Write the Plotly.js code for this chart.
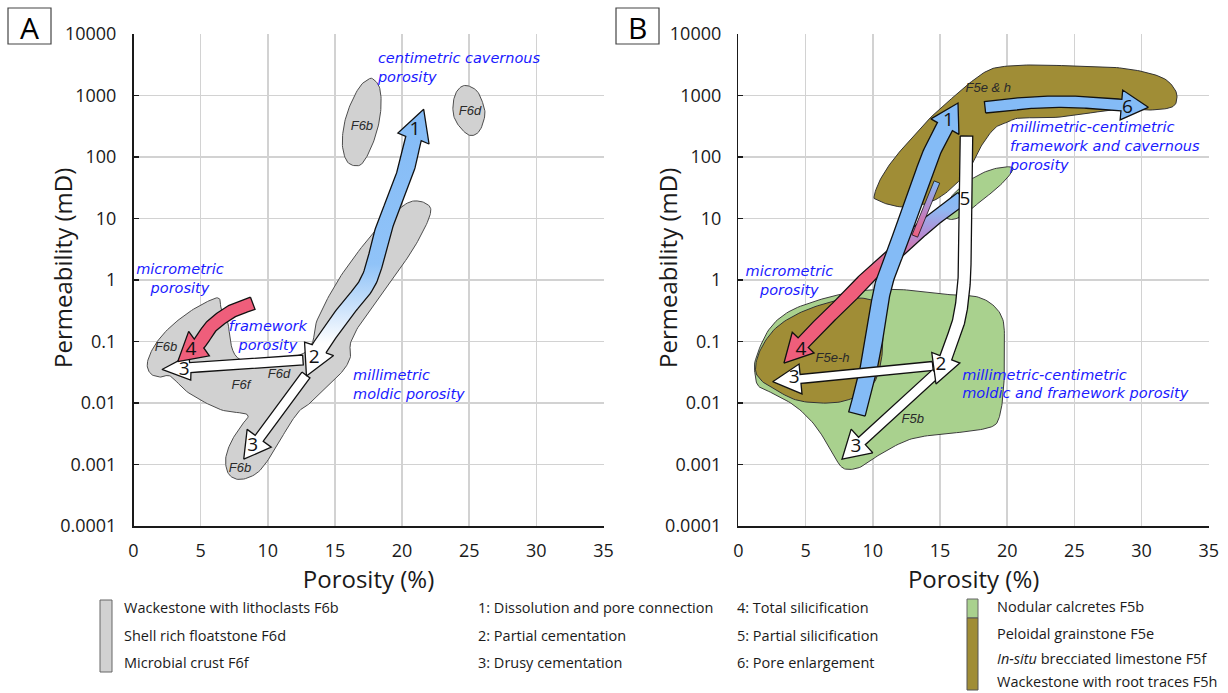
<!DOCTYPE html>
<html><head><meta charset="utf-8">
<script src="https://cdn.plot.ly/plotly-3.0.1.min.js"></script>
<style>html,body{margin:0;padding:0;background:#fff}#chart{width:1228px;height:693px}</style>
</head><body><div id="chart"></div>
<script>
// ================= DATA (porosity %, permeability mD) =================
// Panel A facies fields
const A_F6_MAIN_PHI = [21.12,21.98,22.11,21.61,20.62,19.38,18.14,16.90,16.16,16.16,15.66,14.67,13.93,13.18,12.44,11.69,10.95,10.21,9.22,7.98,7.11,6.86,7.23,7.98,8.47,6.49,4.13,2.77,2.02,1.28,1.03,1.53,2.52,4.01,5.50,6.36,6.54,6.98,7.98,12.69,13.68,14.67,15.91,18.14,20.13];
const A_F6_MAIN_K = [19.3,16.4,12.1,6.47,2.70,1.13,0.474,0.198,0.094,0.0571,0.0347,0.0211,0.0145,0.0100,0.0078,0.00474,0.00254,0.00136,0.000733,0.000571,0.000689,0.00120,0.00224,0.00419,0.00647,0.0078,0.0145,0.0271,0.0264,0.0299,0.0446,0.0830,0.155,0.288,0.446,0.505,0.327,0.224,0.0504,0.0647,0.224,0.609,1.64,6.89,16.4];
const A_F6B_TOP_PHI = [17.81,18.31,18.44,18.26,17.81,17.19,16.69,15.95,15.57,15.65,16.07,16.82,17.44];
const A_F6B_TOP_K = [1870,1368,731,345,163,87,72,82,144,305,646,1368,1800];
const A_F6D_TOP_PHI = [24.66,25.54,26.03,26.16,25.78,25.16,24.54,23.92,23.79,24.04];
const A_F6D_TOP_K = [1455,1207,731,472,268,223,268,417,687,1133];

// Panel A diagenetic paths
const A_PATH12_PHI = [12.88,13.81,15.67,17.53,18.58,19.47,20.36,20.88,21.61];
const A_PATH12_K = [0.0275,0.0755,0.290,1.0,6.26,20,68.7,211,597];
const A_PATH3H_PHI = [12.62,2.12];
const A_PATH3H_K = [0.050,0.0351];
const A_PATH3D_PHI = [12.84,8.21];
const A_PATH3D_K = [0.0285,0.00122];
const A_PATH4_PHI = [8.88,7.26,5.77,4.90,3.29];
const A_PATH4_K = [0.418,0.305,0.174,0.0935,0.047];

// Panel B facies fields
const B_F5B_PHI = [1.27,2.26,3.76,6.00,7.99,9.73,11.72,13.71,15.95,17.69,18.93,19.68,19.80,19.80,19.68,19.43,18.93,17.19,14.70,12.71,10.72,9.23,8.23,7.61,6.99,5.75,4.25,2.51,1.52,1.27];
const B_F5B_K = [0.0504,0.155,0.306,0.474,0.608,0.689,0.706,0.647,0.571,0.537,0.393,0.225,0.094,0.0347,0.0128,0.00608,0.00419,0.00347,0.00306,0.00254,0.00155,0.00094,0.00083,0.00094,0.00155,0.00419,0.00883,0.0145,0.0186,0.0271];
const B_F5EH_LOW_PHI = [1.27,1.64,2.76,4.50,6.49,8.23,9.73,10.47,10.72,10.67,10.22,9.23,7.74,5.99,4.25,2.76,1.77];
const B_F5EH_LOW_K = [0.0347,0.0733,0.164,0.288,0.418,0.504,0.486,0.370,0.155,0.0571,0.0239,0.0145,0.0106,0.0100,0.0113,0.0164,0.0225];
const B_F5EH_TOP_PHI = [10.09,10.54,11.50,12.77,14.26,15.74,16.93,18.35,19.46,21.70,25.04,27.65,29.88,31.59,32.41,32.63,32.26,30.63,28.39,23.93,20.95,20.06,19.09,18.12,17.38,16.11,14.62,12.77,11.28,10.39];
const B_F5EH_TOP_K = [22.4,42.3,89.4,189,430,845,1427,2409,2905,3133,3019,2905,2500,1926,1325,910,650,581,603,447,430,371,296,157,74,35,20,15.4,16.6,20];
const B_F5B_TOP_PHI = [15.40,15.77,16.64,17.60,18.72,19.84,20.43,20.06,19.09,18.12,17.08,16.11,15.44];
const B_F5B_TOP_K = [12.8,21.5,33.7,47.3,61.5,68.8,66.2,47.3,29.0,20.0,12.8,9.8,10.2];

// Panel B diagenetic paths
const B_PATH1_PHI = [8.82,9.49,10.01,10.39,10.90,12.02,13.36,14.47,16.34];
const B_PATH1_K = [0.00662,0.0237,0.0814,0.290,1.0,4.47,29,130,755];
const B_PATH6_PHI = [18.35,20.95,23.71,26.54,30.50];
const B_PATH6_K = [643,741,793,755,643];
const B_PATH25_PHI = [16.97,16.93,16.86,16.79,16.49,15.97,14.70];
const B_PATH25_K = [219,20,3.07,0.927,0.270,0.114,0.0204];
const B_PATH3H_PHI = [14.46,2.55];
const B_PATH3H_K = [0.040,0.0222];
const B_PATH3D_PHI = [14.70,7.71];
const B_PATH3D_K = [0.0304,0.00122];
const B_PATH4_PHI = [16.64,14.26,11.95,9.79,8.01,6.22,3.39];
const B_PATH4_K = [21.5,8.77,3.08,1.21,0.473,0.200,0.0447];
const B_PATH4TAIL_PHI = [13.13,14.77];
const B_PATH4TAIL_K = [5.19,39.2];

// Axis ticks
const X_TICKS = [0,5,10,15,20,25,30,35];
const Y_TICKS = [0.0001,0.001,0.01,0.1,1,10,100,1000,10000];
const Y_TICKTEXT = ['0.0001','0.001','0.01','0.1','1','10','100','1000','10000'];

// Labels
const A_LABELS = [
  {t:'F6b', phi:17.01, k:307}, {t:'F6d', phi:25.06, k:540}, {t:'F6b', phi:2.42, k:0.0783},
  {t:'F6d', phi:10.83, k:0.0285}, {t:'F6f', phi:8.0, k:0.0189}, {t:'F6b', phi:7.93, k:0.00085}
];
const B_LABELS = [
  {t:'F5e &amp; h', phi:18.59, k:1310}, {t:'F5e-h', phi:7.01, k:0.0533}, {t:'F5b', phi:12.97, k:0.0053}
];
const A_NUMS = [{t:'1',phi:20.96,k:275},{t:'2',phi:13.46,k:0.0533},{t:'3',phi:3.78,k:0.0344},{t:'3',phi:8.88,k:0.00195},{t:'4',phi:4.28,k:0.0728}];
const B_NUMS = [{t:'1',phi:15.62,k:375},{t:'6',phi:28.94,k:620},{t:'5',phi:16.86,k:20},{t:'2',phi:15.07,k:0.0415},{t:'3',phi:4.16,k:0.0252},{t:'3',phi:8.75,k:0.00194},{t:'4',phi:4.66,k:0.0728}];
const A_PORE_CENTER = [{t:'micrometric<br>porosity',phi:3.46,k:1.02},{t:'framework<br>porosity',phi:10.01,k:0.118}];
const A_PORE_LEFT = [{t:'centimetric cavernous<br>porosity',phi:18.2,k:2698},{t:'millimetric<br>moldic porosity',phi:16.35,k:0.0189}];
const B_PORE_CENTER = [{t:'micrometric<br>porosity',phi:3.79,k:0.927}];
const B_PORE_LEFT = [{t:'millimetric-centimetric<br>framework and cavernous<br>porosity',phi:20.2,k:144},{t:'millimetric-centimetric<br>moldic and framework porosity',phi:16.65,k:0.0193}];

const LEGEND_FACIES_A = ['Wackestone with lithoclasts F6b','Shell rich floatstone F6d','Microbial crust F6f'];
const LEGEND_PROC_1 = ['1: Dissolution and pore connection','2: Partial cementation','3: Drusy cementation'];
const LEGEND_PROC_2 = ['4: Total silicification','5: Partial silicification','6: Pore enlargement'];
const LEGEND_FACIES_B = ['Nodular calcretes F5b','Peloidal grainstone F5e','<i>In-situ</i> brecciated limestone F5f','Wackestone with root traces F5h'];

// ================= GEOMETRY / STYLE =================
const W = 1228, H = 693;
const DOM_A = [133.5/W, 603.5/W];
const DOM_B = [738.4/W, 1208.8/W];
const DOM_Y = [1-526/H, 1-34/H];
const XR = [0,35], LYR = [-4,4];
const SX_A = (DOM_A[1]-DOM_A[0])*W/(XR[1]-XR[0]);
const SX_B = (DOM_B[1]-DOM_B[0])*W/(XR[1]-XR[0]);
const SY = (DOM_Y[1]-DOM_Y[0])*H/(LYR[1]-LYR[0]);

const C_GRAY='#d1d1d1', C_GRAYLINE='#4d4d4d', C_GREEN='#a9d18e', C_OLIVE='#a08d36';
const C_BLUE='#84bbf6', C_PINK='#ef5e7b', C_LINE='#111111', C_TXTBLUE='#1a1aff';

function toPix(phi,k,sx){return [phi*sx, -Math.log10(k)*SY];}
function fromPix(p,sx){return [p[0]/sx, Math.pow(10,-p[1]/SY)];}
function catmull(pts, closed, n){
  const out=[], m=pts.length, segs=closed?m:m-1;
  for(let i=0;i<segs;i++){
    const p0=pts[closed?(i-1+m)%m:Math.max(i-1,0)], p1=pts[i], p2=pts[(i+1)%m], p3=pts[closed?(i+2)%m:Math.min(i+2,m-1)];
    for(let s=0;s<n;s++){
      const t=s/n,t2=t*t,t3=t2*t;
      const f=(a,b,c,d)=>0.5*((2*b)+(-a+c)*t+(2*a-5*b+4*c-d)*t2+(-a+3*b-3*c+d)*t3);
      out.push([f(p0[0],p1[0],p2[0],p3[0]),f(p0[1],p1[1],p2[1],p3[1])]);
    }
  }
  if(!closed) out.push(pts[m-1]);
  return out;
}
function blob(phi,k,sx){
  const P=phi.map((v,i)=>toPix(v,k[i],sx));
  const C=catmull(P,true,10); C.push(C[0]);
  const D=C.map(p=>fromPix(p,sx));
  return {x:D.map(d=>d[0]), y:D.map(d=>d[1])};
}
function pointAt(C,cum,s){
  for(let i=1;i<C.length;i++){ if(cum[i]>=s){ const t=(s-cum[i-1])/((cum[i]-cum[i-1])||1); return [C[i-1][0]+t*(C[i][0]-C[i-1][0]), C[i-1][1]+t*(C[i][1]-C[i-1][1])]; } }
  return C[C.length-1];
}
function arrow(phi,k,sx,st){
  const P=phi.map((v,i)=>toPix(v,k[i],sx));
  const C=catmull(P,false,20);
  const cum=[0]; for(let i=1;i<C.length;i++) cum.push(cum[i-1]+Math.hypot(C[i][0]-C[i-1][0],C[i][1]-C[i-1][1]));
  const total=cum[cum.length-1];
  const s0=st.hs?st.hsL:0, s1=st.he?total-st.heL:total;
  const body=[pointAt(C,cum,s0)];
  for(let i=0;i<C.length;i++) if(cum[i]>s0+0.5 && cum[i]<s1-0.5) body.push(C[i]);
  body.push(pointAt(C,cum,s1));
  const L=[],R=[];
  for(let i=0;i<body.length;i++){
    const a=body[Math.max(i-1,0)], b=body[Math.min(i+1,body.length-1)];
    let tx=b[0]-a[0], ty=b[1]-a[1]; const l=Math.hypot(tx,ty)||1; tx/=l; ty/=l;
    const nx=-ty, ny=tx, w=st.w/2;
    L.push([body[i][0]+nx*w, body[i][1]+ny*w]); R.push([body[i][0]-nx*w, body[i][1]-ny*w]);
  }
  const poly=[...L];
  if(st.he){
    const base=body[body.length-1], tip=C[C.length-1];
    let dx=tip[0]-base[0], dy=tip[1]-base[1]; const l=Math.hypot(dx,dy); dx/=l; dy/=l;
    const nx=-dy, ny=dx, hw=st.heW;
    poly.push([base[0]+nx*hw,base[1]+ny*hw], tip, [base[0]-nx*hw,base[1]-ny*hw]);
  }
  R.reverse(); poly.push(...R);
  if(st.hs){
    const base=body[0], tip=C[0];
    let dx=base[0]-tip[0], dy=base[1]-tip[1]; const l=Math.hypot(dx,dy); dx/=l; dy/=l;
    const nx=-dy, ny=dx, hw=st.hsW;
    poly.push([base[0]-nx*hw,base[1]-ny*hw], tip, [base[0]+nx*hw,base[1]+ny*hw]);
  }
  poly.push(poly[0]);
  const D=poly.map(p=>fromPix(p,sx));
  return {x:D.map(d=>d[0]), y:D.map(d=>d[1])};
}
function shapeTrace(o, ax, fill, line, lw, grad){
  const t={type:'scatter', mode:'lines', x:o.x, y:o.y, xaxis:ax[0], yaxis:ax[1], fill:'toself',
    fillcolor:fill, line:{color:line, width:lw}, hoverinfo:'skip', showlegend:false};
  if(grad) t.fillgradient={type:'vertical', colorscale:grad};
  return t;
}
function textTrace(items, ax, pos, font, wrap){
  return {type:'scatter', mode:'text', x:items.map(d=>d.phi), y:items.map(d=>d.k),
    text:items.map(d=>wrap?('<i>'+d.t.split('<br>').join('</i><br><i>')+'</i>'):d.t),
    textposition:pos, textfont:font, xaxis:ax[0], yaxis:ax[1], hoverinfo:'skip', showlegend:false};
}

const AXA=['x','y'], AXB=['x2','y2'];
const traces=[];
// ---- Panel A ----
traces.push(shapeTrace(blob(A_F6_MAIN_PHI,A_F6_MAIN_K,SX_A),AXA,C_GRAY,C_GRAYLINE,1));
traces.push(shapeTrace(blob(A_F6B_TOP_PHI,A_F6B_TOP_K,SX_A),AXA,C_GRAY,C_GRAYLINE,1));
traces.push(shapeTrace(blob(A_F6D_TOP_PHI,A_F6D_TOP_K,SX_A),AXA,C_GRAY,C_GRAYLINE,1));
traces.push(shapeTrace(arrow(A_PATH3H_PHI,A_PATH3H_K,SX_A,{w:10,he:true,heL:28,heW:12.5}),AXA,'#ffffff',C_LINE,1.3));
traces.push(shapeTrace(arrow(A_PATH3D_PHI,A_PATH3D_K,SX_A,{w:10,he:true,heL:26,heW:15}),AXA,'#ffffff',C_LINE,1.3));
traces.push(shapeTrace(arrow(A_PATH12_PHI,A_PATH12_K,SX_A,{w:16,he:true,heL:31,heW:16.5,hs:true,hsL:30,hsW:16}),AXA,C_BLUE,C_LINE,1.3,
  [[0,'#ffffff'],[0.12,'#ffffff'],[0.25,'#cde3fb'],[0.42,'#90c3f8'],[1,C_BLUE]]));
traces.push(shapeTrace(arrow(A_PATH4_PHI,A_PATH4_K,SX_A,{w:13,he:true,heL:28,heW:16}),AXA,C_PINK,C_LINE,1.3));
// ---- Panel B ----
traces.push(shapeTrace(blob(B_F5B_PHI,B_F5B_K,SX_B),AXB,C_GREEN,'#3d3d3d',1));
traces.push(shapeTrace(blob(B_F5EH_LOW_PHI,B_F5EH_LOW_K,SX_B),AXB,C_OLIVE,'#333333',1));
traces.push(shapeTrace(blob(B_F5EH_TOP_PHI,B_F5EH_TOP_K,SX_B),AXB,C_OLIVE,'#333333',1));
traces.push(shapeTrace(blob(B_F5B_TOP_PHI,B_F5B_TOP_K,SX_B),AXB,C_GREEN,'#3d3d3d',1));
traces.push(shapeTrace(arrow(B_PATH4_PHI,B_PATH4_K,SX_B,{w:14,he:true,heL:28,heW:15}),AXB,C_PINK,C_LINE,1.3,
  [[0,C_PINK],[0.55,C_PINK],[0.75,'#b68ad2'],[0.9,'#8fb8f2'],[1,C_BLUE]]));
traces.push(shapeTrace(arrow(B_PATH4TAIL_PHI,B_PATH4TAIL_K,SX_B,{w:6}),AXB,C_PINK,C_LINE,0.8,
  [[0,C_PINK],[0.4,'#c07fc0'],[1,C_BLUE]]));
traces.push(shapeTrace(arrow(B_PATH1_PHI,B_PATH1_K,SX_B,{w:17,he:true,heL:27,heW:16}),AXB,C_BLUE,C_LINE,1.3));
traces.push(shapeTrace(arrow(B_PATH3H_PHI,B_PATH3H_K,SX_B,{w:9,he:true,heL:28,heW:15}),AXB,'#ffffff',C_LINE,1.3));
traces.push(shapeTrace(arrow(B_PATH3D_PHI,B_PATH3D_K,SX_B,{w:10,he:true,heL:27,heW:16}),AXB,'#ffffff',C_LINE,1.3));
traces.push(shapeTrace(arrow(B_PATH25_PHI,B_PATH25_K,SX_B,{w:12.5,he:true,heL:28,heW:15}),AXB,'#ffffff',C_LINE,1.3));
traces.push(shapeTrace(arrow(B_PATH6_PHI,B_PATH6_K,SX_B,{w:11.5,he:true,heL:27,heW:15}),AXB,C_BLUE,C_LINE,1.3));

// ---- Text ----
const fFac={family:'Liberation Sans, Arial, sans-serif', size:13, color:'#2a2a2a'};
const fNum={family:'Open Sans, sans-serif', size:19, color:'#111'};
const fBlue={family:'DejaVu Sans, sans-serif', size:14.5, color:C_TXTBLUE};
traces.push(textTrace(A_LABELS,AXA,'middle center',fFac,true));
traces.push(textTrace(B_LABELS,AXB,'middle center',fFac,true));
traces.push(textTrace(A_NUMS,AXA,'middle center',fNum,false));
traces.push(textTrace(B_NUMS,AXB,'middle center',fNum,false));
traces.push(textTrace(A_PORE_CENTER,AXA,'middle center',fBlue,true));
traces.push(textTrace(A_PORE_LEFT,AXA,'middle right',fBlue,true));
traces.push(textTrace(B_PORE_CENTER,AXB,'middle center',fBlue,true));
traces.push(textTrace(B_PORE_LEFT,AXB,'middle right',fBlue,true));

// ---- Axes ----
const tickFont={family:'Open Sans, sans-serif', size:18, color:'#1a1a1a'};
const titleFont={family:'Open Sans, sans-serif', size:24, color:'#1a1a1a'};
function xax(dom, anchor){
  return {domain:dom, anchor:anchor, range:XR, tickvals:X_TICKS, ticktext:X_TICKS.map(String), showgrid:true,
    gridcolor:'#d2d2d2', gridwidth:1.5, showline:true, linecolor:'#1a1a1a', linewidth:1.5, ticks:'',
    zeroline:false, tickfont:tickFont, ticklabelstandoff:8, fixedrange:true,
    title:{text:'Porosity (%)', font:titleFont, standoff:6}};
}
function yax(anchor){
  return {domain:DOM_Y, anchor:anchor, type:'log', range:LYR, tickvals:Y_TICKS, ticktext:Y_TICKTEXT, showgrid:true,
    gridcolor:'#d2d2d2', gridwidth:1.5, showline:true, linecolor:'#1a1a1a', linewidth:1.5, ticks:'inside', ticklen:5,
    tickcolor:'#1a1a1a', tickwidth:1.5, zeroline:false, tickfont:tickFont, ticklabelstandoff:12, fixedrange:true};
}

const ann=[];
const P=(px,py)=>({x:px/W, y:1-py/H});
function pAnn(px,py,text,font,xanchor,extra){
  const p=P(px,py);
  return Object.assign({xref:'paper',yref:'paper',x:p.x,y:p.y,text:text,showarrow:false,xanchor:xanchor||'left',yanchor:'middle',font:font},extra||{});
}
ann.push(pAnn(62,268,'Permeability (mD)',titleFont,'center',{textangle:-90}));
ann.push(pAnn(667,268,'Permeability (mD)',titleFont,'center',{textangle:-90}));
const letterFont={family:'Open Sans, sans-serif', size:30, color:'#000'};
ann.push(pAnn(29.5,27,'A',letterFont,'center'));
ann.push(pAnn(637.5,27,'B',letterFont,'center'));
const legFont={family:'Open Sans, sans-serif', size:14.5, color:'#1a1a1a'};
const rowsA=[607,635,662], rowsB=[606,633,658,681];
LEGEND_FACIES_A.forEach((t,i)=>ann.push(pAnn(122,rowsA[i],t,legFont)));
LEGEND_PROC_1.forEach((t,i)=>ann.push(pAnn(476,rowsA[i],t,legFont)));
LEGEND_PROC_2.forEach((t,i)=>ann.push(pAnn(735,rowsA[i],t,legFont)));
LEGEND_FACIES_B.forEach((t,i)=>ann.push(pAnn(995,rowsB[i],t,legFont)));

function pRect(x0,y0,x1,y1,fill,line,lw){
  const a=P(x0,y0), b=P(x1,y1);
  return {type:'rect',xref:'paper',yref:'paper',x0:a.x,y0:b.y,x1:b.x,y1:a.y,fillcolor:fill,line:{color:line,width:lw}};
}
const shapes=[
  pRect(8,8,51,44,'rgba(0,0,0,0)','#444',1.2),
  pRect(616,8,659,44,'rgba(0,0,0,0)','#444',1.2),
  pRect(100,600,112,672,C_GRAY,'#666',1),
  pRect(967,599,978,618,C_GREEN,'#666',1),
  pRect(967,618,978,690,C_OLIVE,'#555',1)
];

const layout={width:W,height:H,margin:{l:0,r:0,t:0,b:0},paper_bgcolor:'#fff',plot_bgcolor:'#fff',
  showlegend:false,hovermode:false,
  xaxis:xax(DOM_A,'y'), yaxis:yax('x'), xaxis2:xax(DOM_B,'y2'), yaxis2:yax('x2'),
  annotations:ann, shapes:shapes};
Plotly.newPlot('chart',traces,layout,{staticPlot:true,displayModeBar:false});
</script></body></html>
